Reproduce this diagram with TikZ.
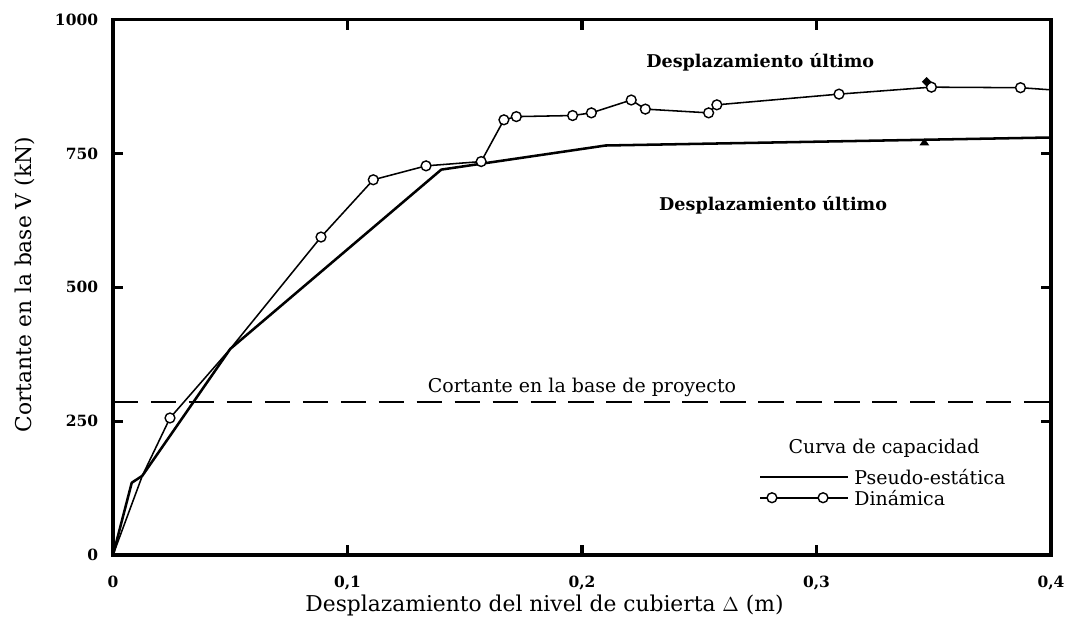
\documentclass[tikz,border=0pt]{standalone}
\usepackage{fontspec}
\setmainfont{DejaVu Serif}
\usetikzlibrary{positioning}
\usetikzlibrary{shapes.geometric}
\tikzstyle{marco}=[line width=2.2pt]
\tikzstyle{pseudo}=[line width=1.8pt,line join=round]
\tikzstyle{dinam}=[line width=1.1pt,line join=round]
\tikzstyle{marca}=[draw,circle,fill=white,line width=1pt,inner sep=0pt,minimum size=7pt]
\tikzstyle{ultimo}=[fill=black,inner sep=0pt,minimum size=7pt]
\tikzstyle{etiq}=[font=\fontsize{13.5}{16}\selectfont]
\tikzstyle{numero}=[font=\fontsize{11}{13}\selectfont\bfseries]
\tikzstyle{eje}=[font=\fontsize{15.5}{18}\selectfont]

\begin{document}
\begin{tikzpicture}[x=58.625cm,y=0.013375cm]
\useasboundingbox (-2.825cm,-1.85cm) rectangle (24.025cm,13.875cm);
% marco y marcas
\draw[marco] (0,0) rectangle (0.4,1000);
\foreach \x in {0.1,0.2,0.3} {
  \draw[marco] (\x,0) -- ++(0,0.25cm);
  \draw[marco] (\x,1000) -- ++(0,-0.25cm);
}
\foreach \y in {250,500,750} {
  \draw[marco] (0,\y) -- ++(0.25cm,0);
  \draw[marco] (0.4,\y) -- ++(-0.25cm,0);
}
\foreach \y in {0,250,500,750,1000}
  \node[numero,anchor=east] (ly\y) at ([xshift=-0.25cm]0,\y) {\y};
\foreach \x/\t/\n in {0/0/a,0.1/{0,1}/b,0.2/{0,2}/c,0.3/{0,3}/d,0.4/{0,4}/e}
  \node[numero,anchor=north] (lx\n) at ([yshift=-0.4cm]\x,0) {\t};
\node[eje] (xlab) at ([yshift=-1.25cm]0.184,0) {Desplazamiento del nivel de cubierta $\Delta$ (m)};
\node[eje,rotate=90] (ylab) at ([xshift=-2.2cm]0,505) {Cortante en la base V (kN)};

% cortante de proyecto
\draw[line width=1pt,dash pattern=on 18pt off 9pt] (0,286) -- (0.4,286);
\node[etiq,anchor=south] (proy) at (0.2,287) {Cortante en la base de proyecto};

% curva pseudo-estatica
\draw[pseudo] plot coordinates {(0,0) (0.008,135) (0.0125,148) (0.05,385)
  (0.14,720) (0.21,765) (0.4,780)};
\node[ultimo,isosceles triangle,shape border rotate=90,isosceles triangle apex angle=70,minimum size=5pt] (up) at (0.346,770) {};

% curva dinamica
\draw[dinam] plot coordinates {(0,0) (0.0125,148) (0.0243,256) (0.05,385)
  (0.0887,594) (0.111,701) (0.1335,727) (0.157,735) (0.1667,813) (0.172,819)
  (0.196,821) (0.204,826) (0.221,850) (0.227,833) (0.254,826) (0.2575,841)
  (0.3096,861) (0.349,874) (0.387,873) (0.4,869)};
\foreach [count=\i] \px/\py in {0.0243/256,0.0887/594,0.111/701,0.1335/727,
  0.157/735,0.1667/813,0.172/819,0.196/821,0.204/826,0.221/850,0.227/833,
  0.254/826,0.2575/841,0.3096/861,0.349/874,0.387/873}
  \node[marca] (m\i) at (\px,\py) {};
\node[ultimo,diamond,minimum size=7pt] (ud) at (0.347,884) {};

\node[etiq,font=\fontsize{12.5}{15}\selectfont\bfseries] (du1) at (0.276,921) {Desplazamiento último};
\node[etiq,font=\fontsize{12.5}{15}\selectfont\bfseries] (du2) at (0.2815,654) {Desplazamiento último};

% leyenda
\node[etiq] (curva) at (0.3288,200) {Curva de capacidad};
\coordinate (p1) at (0.276,146);
\coordinate (p2) at (0.3134,146);
\draw[pseudo,line width=1.2pt] (p1) -- (p2);
\node[etiq,right=1pt of p2] (tp) {Pseudo-estática};
\coordinate (d1) at (0.276,107);
\coordinate (d2) at (0.3134,107);
\draw[dinam] (d1) -- (d2);
\node[marca] (dm1) at (0.281,107) {};
\node[marca] (dm2) at (0.3028,107) {};
\node[etiq,right=1pt of d2] (td) {Dinámica};
\end{tikzpicture}
\end{document}
